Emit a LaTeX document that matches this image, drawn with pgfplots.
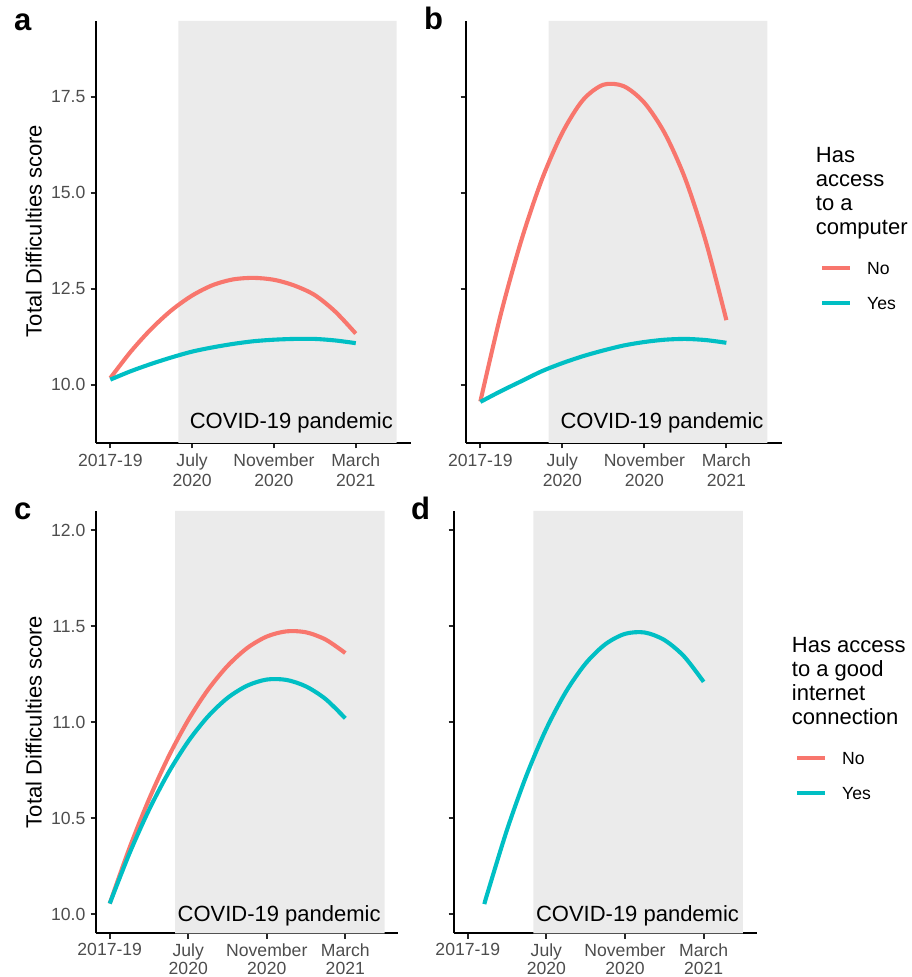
\documentclass[border=0pt]{standalone}
\usepackage{pgfplots}
\pgfplotsset{compat=1.18}
\usepackage{fontspec}
\setmainfont{Liberation Sans}
\definecolor{cNo}{HTML}{F8766D}
\definecolor{cYes}{HTML}{00BFC4}
\definecolor{shade}{HTML}{EBEBEB}
\definecolor{tickgray}{HTML}{4D4D4D}
\newcommand\tickfont{\fontsize{17.6pt}{19.3pt}\selectfont}
\newcommand\bigfont{\fontsize{22pt}{24.1pt}\selectfont}
\newcommand\letterfont{\fontsize{31pt}{31pt}\selectfont\bfseries}

\pgfplotsset{
  panel/.style={
    scale only axis,
    axis x line=bottom, axis y line=left,
    axis line style={-, line width=1.9pt, black},
    tick align=outside,
    major tick length=5.5pt,
    tick style={line width=1.9pt, black!85},
    xmin=-0.175, xmax=3.675,
    xtick={0,1,2,3},
    xticklabels={2017-19,{July\\2020},{November\\2020},{March\\2021}},
    xticklabel style={align=center, font=\tickfont, text=tickgray, inner sep=0pt, yshift=-5.5pt},
    yticklabel style={font=\tickfont, text=tickgray, inner sep=0pt, xshift=-5pt,
      /pgf/number format/.cd, fixed, fixed zerofill, precision=1, assume math mode=true},
    legend cell align=left,
    legend image code/.code={\draw[##1, line width=4.1pt] (0pt,0pt) -- (27.5pt,0pt);},
  },
  lowrow/.style={xticklabel style={align=center, font=\fontsize{17.6pt}{17.8pt}\selectfont, text=tickgray, inner sep=0pt, yshift=1pt}},
  curve/.style={no markers, smooth, line width=4.1pt, line cap=butt},
  leg/.style={draw=none, fill=none, inner sep=0pt, outer sep=0pt, row sep=22.4pt,
    font=\tickfont, cells={anchor=west},
    nodes={inner sep=0pt, text height=12.6pt, text depth=0pt},
    /tikz/every odd column/.append style={column sep=15.6pt}},
}

\begin{document}
\begin{tikzpicture}
\path[use as bounding box] (0pt,0pt) rectangle (912pt,977pt);

% ---------------- panel a
\begin{axis}[panel, at={(96pt,534pt)}, anchor=south west, width=315pt, height=422pt,
  ymin=8.48, ymax=19.47, ytick={10,12.5,15,17.5}]
\addplot[fill=shade, draw=none, forget plot] coordinates {(0.833,8.48) (3.5,8.48) (3.5,19.47) (0.833,19.47)} \closedcycle;
\addplot[curve, cNo] coordinates {
(0,10.17) (0.25,10.86) (0.5,11.45) (0.75,11.94) (1,12.32) (1.25,12.59) (1.5,12.74)
(1.75,12.78) (2,12.73) (2.25,12.58) (2.5,12.33) (2.75,11.90) (3,11.33)};
\addplot[curve, cYes] coordinates {
(0,10.13) (0.25,10.35) (0.5,10.54) (0.75,10.71) (1,10.86) (1.25,10.97) (1.5,11.06)
(1.75,11.13) (2,11.17) (2.25,11.19) (2.5,11.19) (2.75,11.15) (3,11.08)};
\node[anchor=base east, inner sep=0pt, font=\bigfont] at (axis cs:3.455,8.865) {COVID-19 pandemic};
\end{axis}

% ---------------- panel b
\begin{axis}[panel, at={(466pt,534pt)}, anchor=south west, width=315.7pt, height=422pt,
  ymin=8.48, ymax=19.47, ytick={10,12.5,15,17.5}, yticklabels={},
  legend style={leg, at={(axis description cs:1.1213,0.4296)}, anchor=north west}]
\addplot[fill=shade, draw=none, forget plot] coordinates {(0.833,8.48) (3.5,8.48) (3.5,19.47) (0.833,19.47)} \closedcycle;
\addplot[curve, cNo] coordinates {
(0,9.56) (0.25,11.84) (0.5,13.76) (0.75,15.34) (1,16.56) (1.25,17.41) (1.5,17.81)
(1.75,17.77) (2,17.34) (2.25,16.54) (2.5,15.35) (2.75,13.72) (3,11.68)};
\addlegendentry{No}
\addplot[curve, cYes] coordinates {
(0,9.55) (0.25,9.83) (0.5,10.09) (0.75,10.35) (1,10.56) (1.25,10.74) (1.5,10.89)
(1.75,11.02) (2,11.11) (2.25,11.17) (2.5,11.19) (2.75,11.16) (3,11.09)};
\addlegendentry{Yes}
\node[anchor=base east, inner sep=0pt, font=\bigfont] at (axis cs:3.455,8.865) {COVID-19 pandemic};
\end{axis}

% ---------------- panel c
\begin{axis}[panel, lowrow, at={(96pt,43.7pt)}, anchor=south west, width=302.3pt, height=422.3pt,
  ymin=9.9, ymax=12.1, ytick={10,10.5,11,11.5,12},
  legend style={leg, at={(axis description cs:2.3123,0.4307)}, anchor=north west}]
\addplot[fill=shade, draw=none, forget plot] coordinates {(0.833,9.9) (3.5,9.9) (3.5,12.1) (0.833,12.1)} \closedcycle;
\addplot[curve, cNo] coordinates {
(0,10.055) (0.25,10.343) (0.5,10.598) (0.75,10.821) (1,11.011) (1.25,11.168) (1.5,11.293)
(1.75,11.386) (2,11.446) (2.25,11.473) (2.5,11.468) (2.75,11.430) (3,11.360)};
\addlegendentry{No}
\addplot[curve, cYes] coordinates {
(0,10.055) (0.25,10.315) (0.5,10.543) (0.75,10.738) (1,10.900) (1.25,11.029) (1.5,11.126)
(1.75,11.190) (2,11.222) (2.25,11.220) (2.5,11.186) (2.75,11.120) (3,11.020)};
\addlegendentry{Yes}
\node[anchor=base east, inner sep=0pt, font=\bigfont] at (axis cs:3.452,9.96) {COVID-19 pandemic};
\end{axis}

% ---------------- panel d
\begin{axis}[panel, lowrow, at={(454pt,43.7pt)}, anchor=south west, width=302.7pt, height=422.3pt,
  ymin=9.9, ymax=12.1, ytick={10,10.5,11,11.5,12}, yticklabels={}]
\addplot[fill=shade, draw=none, forget plot] coordinates {(0.833,9.9) (3.5,9.9) (3.5,12.1) (0.833,12.1)} \closedcycle;
\addplot[curve, cYes] coordinates {
(0.211,10.052) (0.25,10.108) (0.5,10.440) (0.75,10.726) (1,10.966) (1.25,11.159) (1.5,11.306)
(1.75,11.406) (2,11.460) (2.25,11.467) (2.5,11.428) (2.75,11.343) (3,11.210)};
\node[anchor=base east, inner sep=0pt, font=\bigfont] at (axis cs:3.452,9.96) {COVID-19 pandemic};
\end{axis}

% ---------------- labels
\node[anchor=base west, inner sep=0pt, font=\letterfont] at (14pt,946.3pt) {a};
\node[anchor=base west, inner sep=0pt, font=\letterfont] at (424pt,947pt) {b};
\node[anchor=base west, inner sep=0pt, font=\letterfont] at (14pt,457pt) {c};
\node[anchor=base west, inner sep=0pt, font=\letterfont] at (411pt,457pt) {d};

\node[rotate=90, anchor=base, inner sep=0pt, font=\bigfont] at (41.7pt,746pt) {Total Difficulties score};
\node[rotate=90, anchor=base, inner sep=0pt, font=\bigfont] at (41.7pt,255pt) {Total Difficulties score};

\node[anchor=base west, inner sep=0pt, font=\bigfont] at (815.7pt,814.3pt) {Has};
\node[anchor=base west, inner sep=0pt, font=\bigfont] at (815.7pt,790.2pt) {access};
\node[anchor=base west, inner sep=0pt, font=\bigfont] at (815.7pt,766.1pt) {to a};
\node[anchor=base west, inner sep=0pt, font=\bigfont] at (815.7pt,742pt) {computer};

\node[anchor=base west, inner sep=0pt, font=\bigfont] at (791.7pt,324.3pt) {Has access};
\node[anchor=base west, inner sep=0pt, font=\bigfont] at (791.7pt,300.2pt) {to a good};
\node[anchor=base west, inner sep=0pt, font=\bigfont] at (791.7pt,276.1pt) {internet};
\node[anchor=base west, inner sep=0pt, font=\bigfont] at (791.7pt,252pt) {connection};
\end{tikzpicture}
\end{document}
